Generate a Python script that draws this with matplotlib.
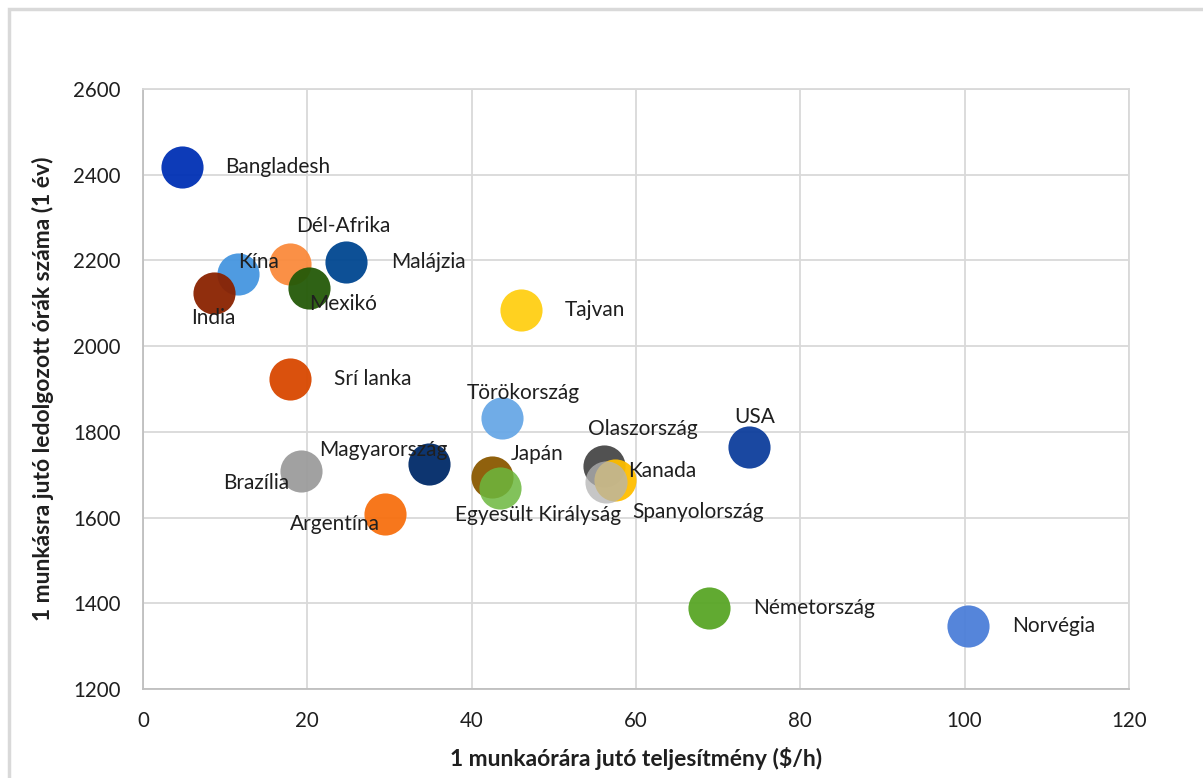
import matplotlib.pyplot as plt
from matplotlib.patches import Rectangle

# orszagok: teljesitmeny ($/h) es evi ledolgozott orak
orszagok = ['Bangladesh', 'Kína', 'India', 'Dél-Afrika', 'Mexikó', 'Malájzia',
            'Tajvan', 'Srí lanka', 'Törökország', 'Magyarország', 'Brazília',
            'Argentína', 'Japán', 'Egyesült Királyság', 'Olaszország', 'Kanada',
            'Spanyolország', 'USA', 'Németország', 'Norvégia']
teljesitmeny = [4.7, 11.6, 8.6, 17.9, 20.2, 24.7, 46.0, 17.9, 43.7, 34.8, 19.2,
                29.4, 42.5, 43.4, 56.1, 57.4, 56.4, 73.7, 68.9, 100.4]
orak = [2419, 2168, 2123, 2191, 2136, 2197, 2084, 1923, 1832, 1725, 1709,
        1608, 1695, 1668, 1720, 1688, 1684, 1765, 1389, 1347]

szinek = ['#0030B4', '#4596E0', '#8A2200', '#FA8A3C', '#245A08', '#004690',
          '#FFCF14', '#D84800', '#68A8E6', '#002A68', '#9C9C9C', '#F7700F',
          '#8A5800', '#6CB83E', '#474747', '#FFBE00', '#B4B4B4', '#0D3E9C',
          '#58A626', '#4C7ED8']
atlatszo = [0.95] * 13 + [0.85, 0.95, 0.95, 0.75, 0.95, 0.95, 0.95]

# feliratok eltolasa pixelben (jobbra, lefele) es igazitas
cimke_hely = [(44, 0, 'left'), (0, -12, 'left'), (0, 25, 'center'),
              (53, -38, 'center'), (0, 16, 'left'), (45, 0, 'left'),
              (44, 0, 'left'), (44, 0, 'left'), (21, -25, 'center'),
              (-46, -14, 'center'), (-45, 12, 'center'), (-50, 10, 'center'),
              (45, -23, 'center'), (38, 27, 'center'), (39, -37, 'center'),
              (48, -9, 'center'), (92, 30, 'center'), (6, -30, 'center'),
              (44, 0, 'left'), (44, 0, 'left')]

plt.rcParams['font.family'] = ['Lato', 'DejaVu Sans']

fig = plt.figure(figsize=(12.03, 7.78), dpi=100)
fig.patches.append(Rectangle((9 / 1203, -0.1), 1.2, 1.1 - 9 / 778,
                             transform=fig.transFigure, fill=False,
                             edgecolor='#D9D9D9', linewidth=2.5))
ax = fig.add_axes([143 / 1203, 1 - 689 / 778, 986 / 1203, 600 / 778])

for x, y, c, a in zip(teljesitmeny, orak, szinek, atlatszo):
    ax.scatter(x, y, s=920, color=c, alpha=a, linewidths=0, zorder=3)

for nev, x, y, (dx, dy, ha) in zip(orszagok, teljesitmeny, orak, cimke_hely):
    ax.annotate(nev, (x, y), xytext=(dx * 0.72, -dy * 0.72),
                textcoords='offset points', ha=ha, va='center',
                fontsize=15, color='#1F1F1F', zorder=4)

ax.set_xlim(0, 120)
ax.set_ylim(1200, 2600)
ax.set_xticks(range(0, 121, 20))
ax.set_yticks(range(1200, 2601, 200))
ax.grid(True, color='#D9D9D9', linewidth=1.3, zorder=0)
ax.set_axisbelow(True)
for side in ['top', 'right']:
    ax.spines[side].set_color('#D9D9D9')
    ax.spines[side].set_linewidth(1.3)
for side in ['left', 'bottom']:
    ax.spines[side].set_color('#BFBFBF')
    ax.spines[side].set_linewidth(1.3)
ax.tick_params(length=0, labelsize=14.8, labelcolor='#1F1F1F', pad=16)

ax.set_xlabel('1 munkaórára jutó teljesítmény ($/h)', fontsize=16.5,
              fontweight='bold', color='#1F1F1F', labelpad=11)
ax.set_ylabel('1 munkásra jutó ledolgozott órák száma (1 év)', fontsize=16.5,
              fontweight='bold', color='#1F1F1F', labelpad=14)

fig.savefig('out.png', dpi=100)
